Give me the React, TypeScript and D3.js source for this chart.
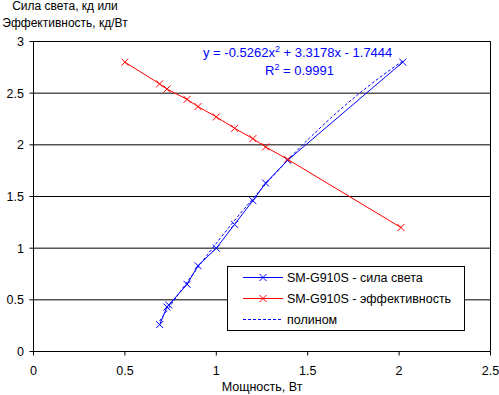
import React from "react";
import * as d3 from "d3";

const powerIntensity = [0.69, 0.73, 0.74, 0.84, 0.9, 1.0, 1.1, 1.2, 1.27, 1.39, 2.02];
const intensity = [0.26, 0.43, 0.45, 0.65, 0.83, 1.0, 1.23, 1.46, 1.63, 1.85, 2.8];
const powerEfficiency = [0.5, 0.69, 0.73, 0.84, 0.9, 1.0, 1.1, 1.2, 1.27, 1.39, 2.01];
const efficiency = [2.8, 2.59, 2.54, 2.44, 2.37, 2.27, 2.16, 2.06, 1.98, 1.86, 1.2];
const polyCoefs = [-0.5262, 3.3178, -1.7444];
const xTicks = [0, 0.5, 1, 1.5, 2, 2.5];
const yTicks = [0, 0.5, 1, 1.5, 2, 2.5, 3];
const seriesNames = ["SM-G910S - сила света", "SM-G910S - эффективность", "полином"];

const FONT = "Arial, 'Liberation Sans', sans-serif";
const BLUE = "#0000ff";
const RED = "#ff0000";

function Cross({ x, y, color }: { x: number; y: number; color: string }) {
  const s = 3.5;
  return (
    <path
      d={`M${x - s},${y - s}L${x + s},${y + s}M${x - s},${y + s}L${x + s},${y - s}`}
      stroke={color}
      strokeWidth={1}
      fill="none"
    />
  );
}

export default function App() {
  const x = d3.scaleLinear().domain([0, 2.5]).range([33.5, 490.5]);
  const y = d3.scaleLinear().domain([0, 3]).range([351.5, 41.5]);

  const line = d3
    .line<[number, number]>()
    .x((d) => x(d[0]))
    .y((d) => y(d[1]));

  const blueData: [number, number][] = powerIntensity.map((p, i) => [p, intensity[i]]);
  const redData: [number, number][] = powerEfficiency.map((p, i) => [p, efficiency[i]]);

  const pMin = d3.min(powerIntensity)!;
  const pMax = d3.max(powerIntensity)!;
  const poly = (v: number) => polyCoefs[0] * v * v + polyCoefs[1] * v + polyCoefs[2];
  const polyData: [number, number][] = d3.range(0, 61).map((i) => {
    const v = pMin + ((pMax - pMin) * i) / 60;
    return [v, poly(v)];
  });

  const left = x(0);
  const right = x(2.5);
  const top = y(3);
  const bottom = y(0);

  const legX = 227.5;
  const legY = 266.5;
  const legRows = [277.5, 298.5, 319.5];

  return (
    <svg
      width={499}
      height={395}
      style={{ position: "absolute", left: 0, top: 0, background: "#fff" }}
      fontFamily={FONT}
    >
      <rect x={0} y={0} width={499} height={395} fill="#fff" />
      {yTicks.map((t) => (
        <line key={"g" + t} x1={left - 4} x2={right} y1={y(t)} y2={y(t)} stroke="#000" strokeWidth={1} />
      ))}
      <line x1={right} x2={right} y1={top} y2={bottom} stroke="#000" strokeWidth={1} />
      <line x1={left} x2={left} y1={top} y2={bottom} stroke="#000" strokeWidth={1} />
      {xTicks.map((t) => (
        <line key={"xt" + t} x1={x(t)} x2={x(t)} y1={bottom} y2={bottom + 4} stroke="#000" strokeWidth={1} />
      ))}
      {yTicks.map((t) => (
        <text key={"yl" + t} x={24} y={y(t) + 4.5} textAnchor="end" fontSize={12.5} fill="#000">
          {String(t)}
        </text>
      ))}
      {xTicks.map((t) => (
        <text key={"xl" + t} x={x(t)} y={375} textAnchor="middle" fontSize={12.5} fill="#000">
          {String(t)}
        </text>
      ))}
      <text x={65} y={10} textAnchor="middle" fontSize={12} fill="#000">
        Сила света, кд или
      </text>
      <text x={65} y={27} textAnchor="middle" fontSize={12} fill="#000">
        Эффективность, кд/Вт
      </text>
      <text x={262} y={391} textAnchor="middle" fontSize={12.5} fill="#000">
        Мощность, Вт
      </text>

      <path d={line(blueData)!} stroke={BLUE} strokeWidth={1} fill="none" />
      {blueData.map((d, i) => (
        <Cross key={"b" + i} x={x(d[0])} y={y(d[1])} color={BLUE} />
      ))}
      <path d={line(polyData)!} stroke={BLUE} strokeWidth={1} fill="none" strokeDasharray="3,2" />
      <path d={line(redData)!} stroke={RED} strokeWidth={1} fill="none" />
      {redData.map((d, i) => (
        <Cross key={"r" + i} x={x(d[0])} y={y(d[1])} color={RED} />
      ))}

      <text x={203} y={57} fontSize={13} fill={BLUE}>
        y = -0.5262x
        <tspan dy={-5} fontSize={9}>2</tspan>
        <tspan dy={5}> + 3.3178x - 1.7444</tspan>
      </text>
      <text x={265} y={75} fontSize={13} fill={BLUE}>
        R
        <tspan dy={-5} fontSize={9}>2</tspan>
        <tspan dy={5}> = 0.9991</tspan>
      </text>

      <rect x={legX} y={legY} width={237} height={64} fill="#fff" stroke="#000" strokeWidth={1} />
      <line x1={243} x2={283} y1={legRows[0]} y2={legRows[0]} stroke={BLUE} strokeWidth={1} />
      <Cross x={263} y={legRows[0]} color={BLUE} />
      <line x1={243} x2={283} y1={legRows[1]} y2={legRows[1]} stroke={RED} strokeWidth={1} />
      <Cross x={263} y={legRows[1]} color={RED} />
      <line x1={243} x2={283} y1={legRows[2]} y2={legRows[2]} stroke={BLUE} strokeWidth={1} strokeDasharray="3,2" />
      {seriesNames.map((n, i) => (
        <text key={n} x={287} y={legRows[i] + 4.5} fontSize={12.5} fill="#000">
          {n}
        </text>
      ))}
    </svg>
  );
}
